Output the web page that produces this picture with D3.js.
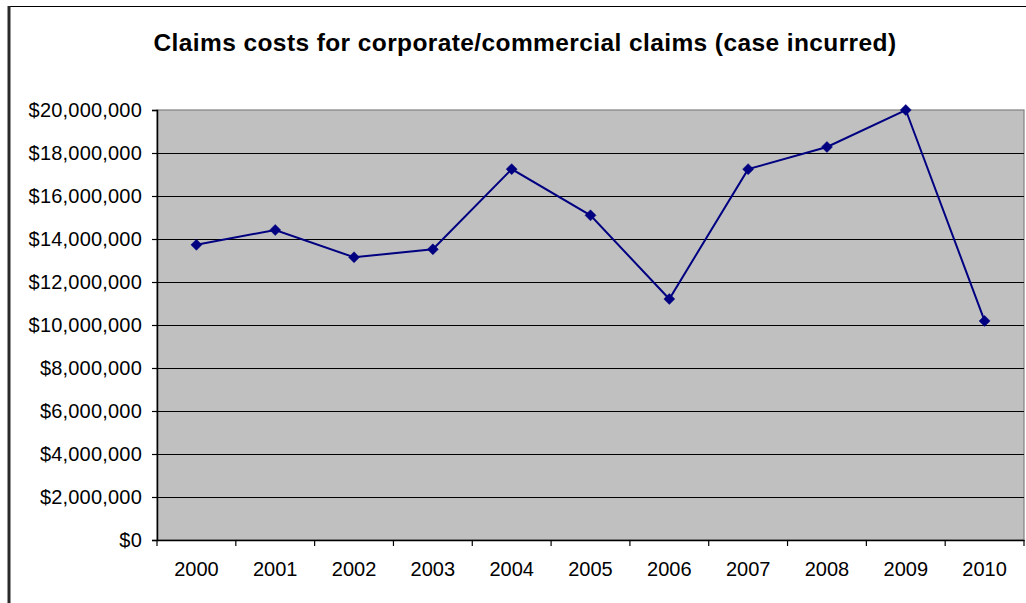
<!DOCTYPE html>
<html>
<head>
<meta charset="utf-8">
<script src="https://cdn.jsdelivr.net/npm/d3@7"></script>
<style>
  html, body { margin: 0; padding: 0; background: #ffffff; }
  svg { display: block; }
  text { font-family: "Liberation Sans", Arial, sans-serif; fill: #000; }
</style>
</head>
<body>
<svg id="chart" width="1026" height="603"></svg>
<script>
// Chart data
const years = ["2000", "2001", "2002", "2003", "2004", "2005", "2006", "2007", "2008", "2009", "2010"];
const claimsCosts = [13730000, 14420000, 13150000, 13520000, 17250000, 15100000, 11210000, 17250000, 18280000, 20000000, 10190000];
const yTicks = [0, 2000000, 4000000, 6000000, 8000000, 10000000, 12000000, 14000000, 16000000, 18000000, 20000000];
const titleText = "Claims costs for corporate/commercial claims (case incurred)";

const svg = d3.select("#chart");
const plot = { left: 157, right: 1024, top: 110, bottom: 540 };

// Outer chart frame
svg.append("line").attr("x1", 8).attr("x2", 1026).attr("y1", 6.5).attr("y2", 6.5)
  .attr("stroke", "#000").attr("stroke-width", 1.2);
svg.append("line").attr("x1", 9).attr("x2", 9).attr("y1", 6).attr("y2", 603)
  .attr("stroke", "#2a2a2a").attr("stroke-width", 3);

// Title
svg.append("text")
  .attr("x", 525).attr("y", 51)
  .attr("text-anchor", "middle")
  .style("font-size", "24.5px").style("font-weight", "bold")
  .style("letter-spacing", "0.4px")
  .text(titleText);

const x = d3.scaleBand().domain(years).range([plot.left, plot.right]);
const y = d3.scaleLinear().domain([0, 20000000]).range([plot.bottom, plot.top]);

// Plot area background
svg.append("rect")
  .attr("x", plot.left).attr("y", plot.top)
  .attr("width", plot.right - plot.left).attr("height", plot.bottom - plot.top)
  .attr("fill", "#c0c0c0").attr("stroke", "#808080").attr("stroke-width", 1.2);

// Horizontal gridlines
svg.append("g").selectAll("line")
  .data(yTicks.filter(d => d > 0 && d < 20000000))
  .join("line")
  .attr("x1", plot.left).attr("x2", plot.right)
  .attr("y1", d => y(d) + 0.5).attr("y2", d => y(d) + 0.5)
  .attr("stroke", "#000").attr("stroke-width", 1)
  .attr("shape-rendering", "crispEdges");

// Y axis
const fmt = d => "$" + d3.format(",")(d);
const yAxis = svg.append("g")
  .attr("transform", `translate(${plot.left},0)`)
  .call(d3.axisLeft(y).tickValues(yTicks).tickFormat(fmt).tickSize(5).tickPadding(10));
yAxis.select(".domain").attr("stroke", "#000").attr("stroke-width", 1.5);
yAxis.selectAll(".tick line").attr("stroke", "#000").attr("stroke-width", 1.2);
yAxis.selectAll(".tick text")
  .style("font-size", "20px")
  .style("letter-spacing", "0.2px")
  .style("font-family", '"Liberation Sans", Arial, sans-serif')
  .attr("fill", "#000");

// X axis with ticks at category boundaries
const xAxis = svg.append("g")
  .attr("transform", `translate(0,${plot.bottom})`)
  .call(d3.axisBottom(x).tickSize(0).tickPadding(22));
xAxis.select(".domain").attr("stroke", "#000").attr("stroke-width", 1.5);
xAxis.selectAll(".tick text")
  .style("font-size", "20px")
  .style("font-family", '"Liberation Sans", Arial, sans-serif')
  .attr("fill", "#000");
const boundaries = years.map(d => x(d)).concat([x(years[years.length - 1]) + x.bandwidth()]);
xAxis.append("g").selectAll("line")
  .data(boundaries)
  .join("line")
  .attr("x1", d => d).attr("x2", d => d)
  .attr("y1", 0).attr("y2", 6)
  .attr("stroke", "#000").attr("stroke-width", 1.2);

// Series line
const cx = (d, i) => x(years[i]) + x.bandwidth() / 2;
svg.append("path")
  .datum(claimsCosts)
  .attr("fill", "none")
  .attr("stroke", "#000080")
  .attr("stroke-width", 2)
  .attr("d", d3.line().x(cx).y(d => y(d)));

// Diamond markers
svg.append("g").selectAll("path")
  .data(claimsCosts)
  .join("path")
  .attr("transform", (d, i) => `translate(${cx(d, i)},${y(d)})`)
  .attr("d", "M0,-5.5L5.5,0L0,5.5L-5.5,0Z")
  .attr("fill", "#000080")
  .attr("stroke", "#000080")
  .attr("stroke-width", 0.5);
</script>
</body>
</html>
